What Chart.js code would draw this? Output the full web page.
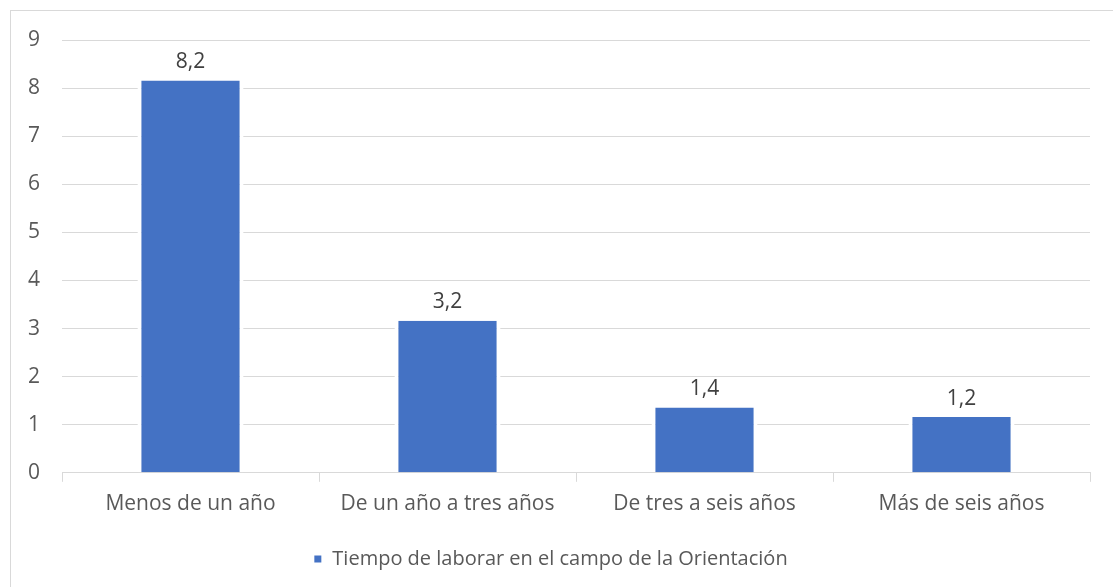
<!DOCTYPE html>
<html>
<head>
<meta charset="utf-8">
<script src="https://cdn.jsdelivr.net/npm/chart.js@4.4.1/dist/chart.umd.min.js"></script>
<style>
  body { margin: 0; background: #fff; overflow: hidden; }
  #frame {
    position: absolute; left: 10px; top: 10px;
    width: 1103px; height: 577px;
    border-left: 1px solid #D9D9D9; border-top: 1px solid #D9D9D9;
  }
  #wrap { position: relative; width: 1103px; height: 577px; }
</style>
</head>
<body>
<div id="frame"><div id="wrap"><canvas id="chart"></canvas></div></div>
<script>
const categories = ['Menos de un año', 'De un año a tres años', 'De tres a seis años', 'Más de seis años'];
const values = [8.16, 3.16, 1.36, 1.16];
const seriesName = 'Tiempo de laborar en el campo de la Orientación';
const yTicks = [0, 1, 2, 3, 4, 5, 6, 7, 8, 9];

const FONT = "'Open Sans', sans-serif";
const TEXT = '#595959';

// value labels above each bar, drawn from the bar elements
const barLabels = {
  id: 'barLabels',
  afterDatasetsDraw(chart) {
    const c = chart.ctx;
    const meta = chart.getDatasetMeta(0);
    c.save();
    c.font = '21px ' + FONT;
    c.fillStyle = '#404040';
    c.textAlign = 'center';
    c.textBaseline = 'bottom';
    meta.data.forEach((bar, i) => {
      const txt = values[i].toFixed(1).replace('.', ',');
      c.fillText(txt, bar.x, bar.y - 8);
    });
    c.restore();
  }
};

const ctx = document.getElementById('chart');
new Chart(ctx, {
  type: 'bar',
  data: {
    labels: categories,
    datasets: [{
      label: seriesName,
      data: values,
      backgroundColor: '#4472C4',
      borderColor: '#ffffff',
      borderWidth: { left: 4, right: 4, top: 0, bottom: 0 },
      borderSkipped: false,
      categoryPercentage: 1,
      barPercentage: 0.413
    }]
  },
  options: {
    responsive: true,
    maintainAspectRatio: false,
    animation: false,
    layout: { padding: { left: 0, right: 24, top: 29, bottom: 9 } },
    plugins: {
      tooltip: { enabled: false },
      legend: {
        position: 'bottom',
        labels: {
          font: { family: FONT, size: 20 },
          color: TEXT,
          boxWidth: 9,
          boxHeight: 9,
          padding: 22
        }
      }
    },
    scales: {
      x: {
        offset: true,
        grid: {
          drawOnChartArea: false,
          drawTicks: true,
          tickLength: 9,
          color: '#D9D9D9'
        },
        border: { color: '#D9D9D9', width: 1 },
        ticks: {
          font: { family: FONT, size: 21 },
          color: TEXT,
          padding: 10
        }
      },
      y: {
        min: 0,
        max: 9,
        afterBuildTicks(scale) {
          scale.ticks = yTicks.map(v => ({ value: v }));
        },
        afterFit(scale) {
          scale.width = 51;
          scale.paddingTop = 0;
          scale.paddingBottom = 0;
        },
        grid: { color: '#D9D9D9', lineWidth: 1, drawTicks: false },
        border: { display: false },
        ticks: {
          font: { family: FONT, size: 21 },
          color: TEXT,
          padding: 22
        }
      }
    }
  },
  plugins: [barLabels]
});
</script>
</body>
</html>
